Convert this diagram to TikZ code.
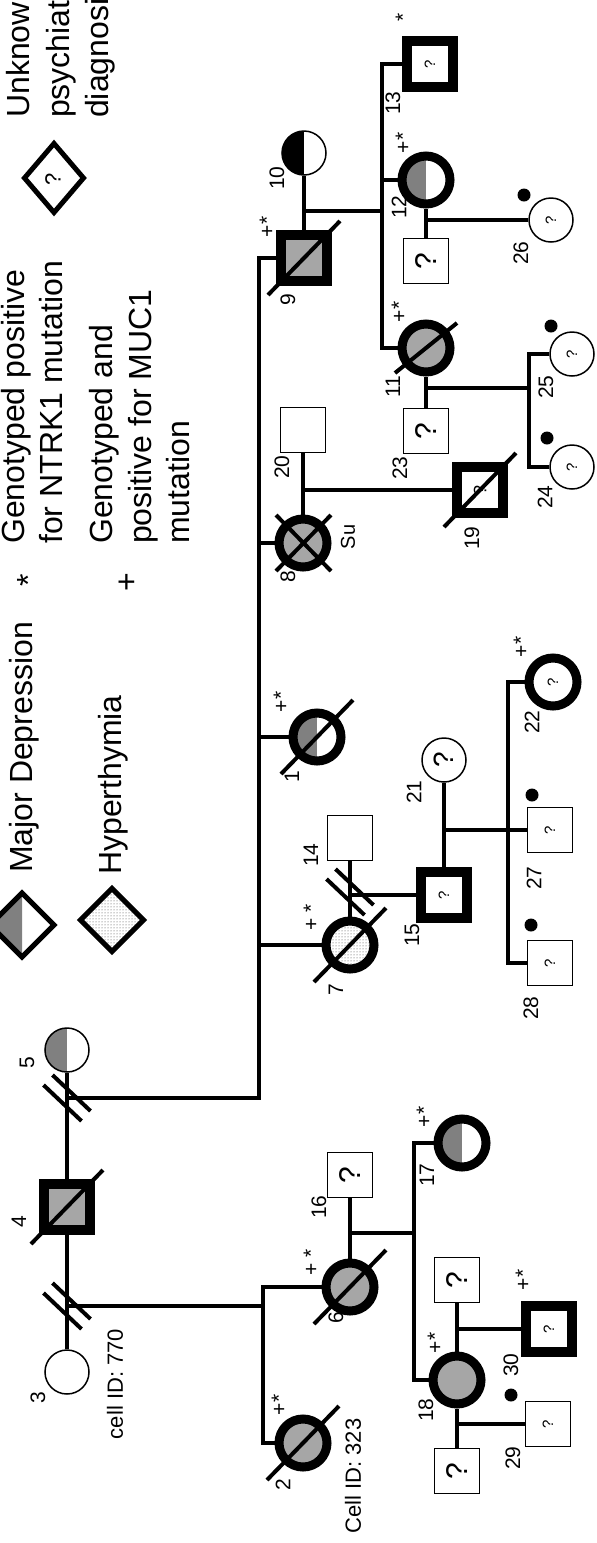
\documentclass[tikz,border=0pt]{standalone}
\usepackage{fontspec}
\setmainfont{Liberation Sans}
\usetikzlibrary{calc,patterns,shapes.geometric}
\definecolor{fillgray}{RGB}{166,166,166}
\definecolor{halfgray}{RGB}{128,128,128}
\newcommand\fsz[1]{\fontsize{#1}{#1}\selectfont}
\newcommand\dblslash[1]{%
  \draw[dslash] ($(#1)+(-14.5,-23)$) -- ($(#1)+(23.5,13)$);
  \draw[dslash] ($(#1)+(-23.5,-13)$) -- ($(#1)+(14.5,23)$);}
\newcommand\deceased[1]{%
  \draw[dec] ($(#1.center)+(-36,37)$) -- ($(#1.center)+(36,-37)$);}
\tikzset{
  conn/.style={line width=3.5pt, line join=miter},
  dslash/.style={line width=4pt},
  dec/.style={line width=4pt},
  person/.style={inner sep=0pt, draw, fill=white},
  thinsq/.style={person, rectangle, line width=1.5pt, minimum size=45pt},
  thicksq/.style={person, rectangle, line width=10pt, minimum size=46pt},
  thincirc/.style={person, circle, line width=1.5pt, minimum size=44pt},
  thickcirc/.style={person, circle, line width=9pt, minimum size=48pt},
  halfl/.style={path picture={\fill[halfgray] (path picture bounding box.south west) rectangle (path picture bounding box.north);}},
  halfblack/.style={path picture={\fill[black] (path picture bounding box.south west) rectangle (path picture bounding box.north);}},
  stipple/.style={pattern=dots, pattern color=black!75},
  qbig/.style={rotate=90, font=\fsz{30}},
  qsmall/.style={rotate=90, font=\fsz{15}},
  lbl/.style={rotate=90, font=\fsz{21}, inner sep=0pt},
  legtxt/.style={rotate=90, font=\fsz{32}, inner sep=0pt, anchor=base west},
  dotn/.style={circle, fill=black, inner sep=0pt, minimum size=13pt},
}
\begin{document}
\begin{tikzpicture}[x=1pt,y=-1pt]
\useasboundingbox (0,0) rectangle (597,1543);
\clip (0,0) rectangle (597,1543);
\fill[white] (0,0) rectangle (597,1543);

% ---------------- Legend ----------------
\fill[halfgray] (22,893) -- (-10,925) -- (22,957) -- cycle;
\draw[line width=5pt, line join=miter] (22,893) -- (54,925) -- (22,957) -- (-10,925) -- cycle;
\node[legtxt] (lgMD) at (32,873) {Major Depression};
\draw[line width=5pt, line join=miter, stipple] (112,888.5) -- (143.5,920) -- (112,951.5) -- (80.5,920) -- cycle;
\node[legtxt] (lgHY) at (121,875) {Hyperthymia};
\node[rotate=90, font=\fsz{32}, inner sep=0pt] (lgStar) at (28,580) {*};
\node[rotate=90, font=\fsz{32}, inner sep=0pt] (lgPlus) at (128,582) {+};
\node[legtxt] (lgA1) at (24,544) {Genotyped positive};
\node[legtxt] (lgA2) at (62,544) {for NTRK1 mutation};
\node[legtxt] (lgB1) at (112,544) {Genotyped and};
\node[legtxt] (lgB2) at (151,544) {positive for MUC1};
\node[legtxt] (lgB3) at (189,544) {mutation};
\draw[line width=5pt, line join=miter] (54,143.5) -- (83.5,178) -- (54,212.5) -- (24.5,178) -- cycle;
\node[rotate=90, font=\fsz{22}, inner sep=0pt] (lgQ) at (53,179) {?};
\node[legtxt] (lgC1) at (30,118) {Unknown};
\node[legtxt] (lgC2) at (69,118) {psychiatric};
\node[legtxt] (lgC3) at (108,118) {diagnosis};

% ---------------- Persons ----------------
% Generation I
\node[thincirc] (P3) at (67,1372) {};
\node[thicksq, fill=fillgray] (P4) at (67,1207) {};
\node[thincirc, halfl] (P5) at (67,1050) {};

% children of 3-4
\node[thickcirc, fill=fillgray] (P6) at (350,1287) {};
\node[thickcirc, fill=fillgray] (P2) at (303,1443) {};
\node[thinsq, qbig] (P16) at (350,1175) {?};
\node[thickcirc, halfl] (P17) at (462,1143) {};
\node[thickcirc, fill=fillgray] (P18) at (457,1380) {};
\node[thinsq, qbig] (P18a) at (457,1280) {?};
\node[thinsq, qbig] (P18b) at (457,1471) {?};
\node[thicksq, qsmall] (P30) at (549,1329) {?};
\node[thinsq, qsmall] (P29) at (548,1424) {?};

% children of 4-5
\node[thickcirc, stipple] (P7) at (350,945) {};
\node[thinsq] (P14) at (350,838) {};
\node[thicksq, qsmall] (P15) at (444,895) {?};
\node[thincirc, rotate=90, font=\fsz{28}] (P21) at (444,760) {?};
\node[thinsq, qsmall] (P27) at (550,830) {?};
\node[thinsq, qsmall] (P28) at (550,963) {?};
\node[thickcirc, qsmall] (P22) at (553,682) {?};

\node[thickcirc, halfl] (P1) at (317,737) {};

\node[thickcirc, fill=fillgray] (P8) at (303,543) {};
\node[thinsq] (P20) at (303,430) {};
\node[thicksq, rotate=90, font=\fsz{18}] (P19) at (480,490) {?};

\node[thicksq, fill=fillgray] (P9) at (304,258) {};
\node[thincirc, halfblack] (P10) at (304,153) {};
\node[thicksq, qsmall] (P13) at (430,64) {?};
\node[thickcirc, halfl] (P12) at (426,180) {};
\node[thinsq, qbig] (P12a) at (426,261) {?};
\node[thincirc, qsmall] (P26) at (551,220) {?};
\node[thickcirc, fill=fillgray] (P11) at (426,348) {};
\node[thinsq, qbig] (P23) at (426,431) {?};
\node[thincirc, qsmall] (P25) at (572,354) {?};
\node[thincirc, qsmall] (P24) at (572,467) {?};

% ---------------- Junction coordinates ----------------
\coordinate (d34) at (67,1306);
\coordinate (d34e) at (265,1306);
\coordinate (sA1) at (263,1287);
\coordinate (sA2) at (263,1443);
\coordinate (d616) at (350,1233);
\coordinate (d616e) at (414,1233);
\coordinate (sB1) at (414,1143);
\coordinate (sB2) at (414,1380);
\coordinate (d30) at (457,1329);
\coordinate (d29) at (457,1424);
\coordinate (d45) at (67,1098);
\coordinate (sC1) at (259,1098);
\coordinate (sC2) at (259,258);
\coordinate (b7) at (259,945);
\coordinate (b1) at (259,737);
\coordinate (b8) at (259,543);
\coordinate (d714) at (350,895);
\coordinate (x714) at (350,892);
\coordinate (d1521) at (444,830);
\coordinate (sD1) at (508,682);
\coordinate (sD2) at (508,963);
\coordinate (d820) at (303,490);
\coordinate (d910) at (304,211);
\coordinate (d910e) at (382,211);
\coordinate (sF1) at (382,64);
\coordinate (sF2) at (382,348);
\coordinate (b12) at (382,180);
\coordinate (d1226) at (426,220);
\coordinate (d1123) at (426,388);
\coordinate (d1123e) at (529,388);
\coordinate (sE1) at (529,354);
\coordinate (sE2) at (529,467);

% ---------------- Connectors ----------------
\draw[conn] (P3) -- (P4);
\draw[conn] (P4) -- (P5);
\draw[conn] (d34) -- (d34e);
\draw[conn] (P6) -- (sA1) -- (sA2) -- (P2);
\draw[conn] (P6) -- (P16);
\draw[conn] (d616) -- (d616e);
\draw[conn] (P17) -- (sB1) -- (sB2) -- (P18);
\draw[conn] (P18a) -- (P18);
\draw[conn] (P18) -- (P18b);
\draw[conn] (d30) -- (P30);
\draw[conn] (d29) -- (P29);

\draw[conn] (d45) -- (sC1) -- (sC2) -- (P9);
\draw[conn] (b7) -- (P7);
\draw[conn] (b1) -- (P1);
\draw[conn] (b8) -- (P8);
\draw[conn] (P7) -- (P14);
\draw[conn] (d714) -- (P15);
\draw[conn] (P15) -- (P21);
\draw[conn] (d1521) -- (P27);
\draw[conn] (P22) -- (sD1) -- (sD2) -- (P28);
\draw[conn] (P8) -- (P20);
\draw[conn] (d820) -- (P19);
\draw[conn] (P9) -- (P10);
\draw[conn] (d910) -- (d910e);
\draw[conn] (P13) -- (sF1) -- (sF2) -- (P11);
\draw[conn] (b12) -- (P12);
\draw[conn] (P12) -- (P12a);
\draw[conn] (d1226) -- (P26);
\draw[conn] (P11) -- (P23);
\draw[conn] (d1123) -- (d1123e);
\draw[conn] (P25) -- (sE1) -- (sE2) -- (P24);

% separation marks
\dblslash{d34}
\dblslash{d45}
\dblslash{x714}

% deceased marks
\deceased{P4}
\deceased{P6}
\deceased{P2}
\deceased{P7}
\deceased{P1}
\deceased{P9}
\deceased{P19}
\draw[dec] ($(P11.center)+(-31,25)$) -- ($(P11.center)+(31,-25)$);
\draw[dec] ($(P8.center)+(-27,-28)$) -- ($(P8.center)+(28,28)$);
\draw[dec] ($(P8.center)+(-27,28)$) -- ($(P8.center)+(28,-28)$);

% ---------------- Labels ----------------
\node[lbl] (l3) at (38,1398) {3};
\node[lbl] (l4) at (19,1222) {4};
\node[lbl] (l5) at (27,1063) {5};
\node[rotate=90, font=\fsz{22}, inner sep=0pt] (cid770) at (115,1384) {cell ID: 770};
\node[rotate=90, font=\fsz{22}, inner sep=0pt] (cid323) at (353,1476) {Cell ID: 323};
\node[lbl] (l2) at (283,1485) {2};
\node[lbl] (g2) at (279,1405) {+*};
\node[lbl] (l6) at (336,1318) {6};
\node[lbl] (g6) at (311,1262) {+ *};
\node[lbl] (l16) at (319,1207) {16};
\node[lbl] (l17) at (427,1175) {17};
\node[lbl] (g17) at (424,1117) {+*};
\node[lbl] (l18) at (426,1410) {18};
\node[lbl] (g18) at (435,1343) {+*};
\node[lbl] (g30) at (523,1280) {+*};
\node[lbl] (l30) at (511,1365) {30};
\node[lbl] (l29) at (513,1458) {29};
\node[lbl] (l7) at (336,990) {7};
\node[lbl] (g7) at (311,917) {+ *};
\node[lbl] (l14) at (311,855) {14};
\node[lbl] (l15) at (412,935) {15};
\node[lbl] (l21) at (414,792) {21};
\node[lbl] (l28) at (531,1008) {28};
\node[lbl] (l27) at (534,878) {27};
\node[lbl] (l22) at (532,722) {22};
\node[lbl] (g22) at (521,647) {+*};
\node[lbl] (l1) at (292,777) {1};
\node[lbl] (g1) at (281,702) {+*};
\node[lbl] (l8) at (288,577) {8};
\node[rotate=90, font=\fsz{20}, inner sep=0pt] (lSu) at (348,537) {Su};
\node[lbl] (l20) at (282,467) {20};
\node[lbl] (l19) at (472,538) {19};
\node[lbl] (l23) at (400,468) {23};
\node[lbl] (l24) at (545,497) {24};
\node[lbl] (l9) at (288,300) {9};
\node[lbl] (g9) at (267,227) {+*};
\node[lbl] (l10) at (277,178) {10};
\node[lbl] (l13) at (393,103) {13};
\node[lbl] (g13) at (403,17) {*};
\node[lbl] (l12) at (399,207) {12};
\node[lbl] (g12) at (403,143) {+*};
\node[lbl] (l26) at (521,253) {26};
\node[lbl] (l11) at (393,387) {11};
\node[lbl] (g11) at (399,312) {+*};
\node[lbl] (l25) at (546,387) {25};

% dots
\node[dotn] (dt30) at (511,1395) {};
\node[dotn] (dt27) at (532,795) {};
\node[dotn] (dt28) at (531,925) {};
\node[dotn] (dt24) at (547,438) {};
\node[dotn] (dt26) at (524,195) {};
\node[dotn] (dt25) at (551,326) {};
\end{tikzpicture}
\end{document}
